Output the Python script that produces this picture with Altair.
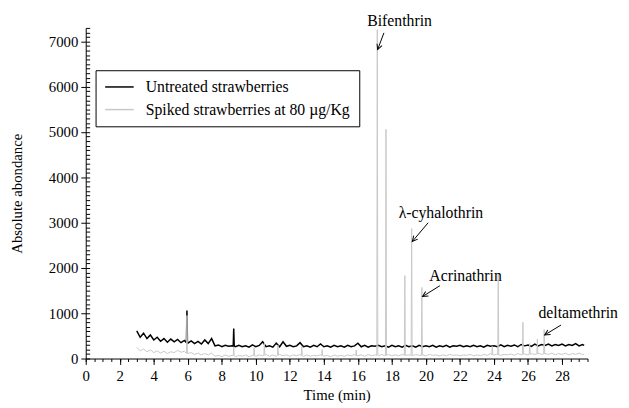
import math
import altair as alt
import pandas as pd

# ---------------- data ----------------
series_names = ["Untreated strawberries", "Spiked strawberries at 80 µg/Kg"]

base_t = [
    3.0, 3.2, 3.4, 3.6, 3.8,
    4.0, 4.2, 4.4, 4.6, 4.8,
    5.0, 5.2, 5.4, 5.6, 5.8,
    6.0, 6.2, 6.4, 6.6, 6.8,
    7.0, 7.2, 7.4, 7.6, 7.8,
    8.0, 8.2, 8.4, 8.6, 8.8,
    9.0, 9.2, 9.4, 9.6, 9.8,
    10.0, 10.2, 10.4, 10.6, 10.8,
    11.0, 11.2, 11.4, 11.6, 11.8,
    12.0, 12.2, 12.4, 12.6, 12.8,
    13.0, 13.2, 13.4, 13.6, 13.8,
    14.0, 14.2, 14.4, 14.6, 14.8,
    15.0, 15.2, 15.4, 15.6, 15.8,
    16.0, 16.2, 16.4, 16.6, 16.8,
    17.0, 17.2, 17.4, 17.6, 17.8,
    18.0, 18.2, 18.4, 18.6, 18.8,
    19.0, 19.2, 19.4, 19.6, 19.8,
    20.0, 20.2, 20.4, 20.6, 20.8,
    21.0, 21.2, 21.4, 21.6, 21.8,
    22.0, 22.2, 22.4, 22.6, 22.8,
    23.0, 23.2, 23.4, 23.6, 23.8,
    24.0, 24.2, 24.4, 24.6, 24.8,
    25.0, 25.2, 25.4, 25.6, 25.8,
    26.0, 26.2, 26.4, 26.6, 26.8,
    27.0, 27.2, 27.4, 27.6, 27.8,
    28.0, 28.2, 28.4, 28.6, 28.8,
    29.0, 29.2, 29.3,
]

untreated_v = [
    610, 470, 560, 440, 520,
    410, 470, 380, 440, 360,
    430, 370, 420, 350, 400,
    340, 390, 330, 380, 320,
    410, 330, 440, 280, 300,
    260, 290, 270, 280, 260,
    290, 260, 280, 250, 300,
    260, 290, 370, 260, 280,
    250, 340, 260, 370, 270,
    290, 260, 280, 350, 260,
    280, 250, 290, 260, 320,
    260, 280, 250, 290, 260,
    280, 250, 290, 260, 280,
    340, 260, 290, 250, 280,
    270, 290, 260, 280, 250,
    290, 260, 280, 250, 290,
    260, 280, 250, 290, 260,
    280, 260, 290, 250, 280,
    260, 290, 250, 280, 270,
    290, 260, 280, 260, 290,
    260, 280, 250, 290, 270,
    280, 260, 300, 260, 290,
    270, 300, 260, 310, 280,
    300, 270, 320, 280, 310,
    290, 320, 280, 310, 290,
    320, 280, 310, 290, 330,
    280, 310, 290,
]

spiked_v = [
    250, 170, 210, 150, 190,
    130, 170, 120, 160, 110,
    150, 130, 180, 140, 160,
    110, 130, 90, 120, 80,
    110, 80, 120, 50, 70,
    40, 80, 50, 70, 40,
    70, 50, 80, 40, 70,
    50, 80, 60, 90, 50,
    80, 50, 90, 60, 80,
    50, 80, 60, 90, 50,
    80, 50, 70, 60, 80,
    50, 70, 40, 80, 50,
    70, 50, 80, 60, 90,
    60, 80, 50, 90, 60,
    80, 60, 90, 60, 90,
    60, 80, 60, 90, 70,
    80, 60, 90, 70, 80,
    60, 90, 70, 80, 60,
    80, 60, 90, 70, 80,
    60, 80, 70, 90, 60,
    80, 60, 90, 70, 110,
    80, 100, 70, 90, 80,
    100, 70, 110, 80, 100,
    80, 110, 90, 120, 90,
    110, 90, 120, 80, 110,
    90, 120, 80, 110, 90,
    120, 90, 100,
]

# narrow peaks: retention time, apex, foot
untreated_peak_t = [5.95, 8.7]
untreated_peak_top = [1060, 660]
untreated_peak_base = [350, 270]

spiked_peak_t = [5.95, 8.7, 9.9, 10.5, 11.3, 12.7, 13.9, 15.9, 17.14, 17.65,
                 18.76, 19.16, 19.76, 23.9, 24.25, 25.7, 26.1, 26.55, 26.95]
spiked_peak_top = [950, 260, 240, 340, 300, 260, 200, 190, 7260, 5060,
                   1830, 2870, 1570, 270, 1850, 800, 330, 430, 640]
spiked_peak_base = [110, 60, 60, 70, 70, 60, 60, 60, 70, 70,
                    70, 70, 70, 80, 80, 90, 90, 100, 100]
peak_halfwidth = 0.03

# annotations (data units)
ann_label = ["Bifenthrin", "λ-cyhalothrin", "Acrinathrin", "deltamethrin"]
ann_text_x = [18.45, 20.88, 22.33, 28.95]
ann_text_y = [7452, 3215, 1825, 999]
ann_tail_x = [17.53, 20.13, 20.82, 27.94]
ann_tail_y = [7191, 2998, 1608, 739]
ann_head_x = [17.16, 19.2, 19.8, 26.98]
ann_head_y = [6822, 2585, 1369, 521]

x_tick_values = [0, 2, 4, 6, 8, 10, 12, 14, 16, 18, 20, 22, 24, 26, 28]
y_tick_values = [0, 1000, 2000, 3000, 4000, 5000, 6000, 7000]
x_minor_ticks = [i * 0.5 for i in range(60)]
y_minor_ticks = [i * 100 for i in range(74)]

# ---------------- build tables ----------------
def build(name, vals, pt, ptop, pbase):
    rows = [(t, v) for t, v in zip(base_t, vals)]
    for t, top, b in zip(pt, ptop, pbase):
        rows += [(t - peak_halfwidth, b), (t, top), (t + peak_halfwidth, b)]
    rows.sort(key=lambda r: r[0])
    return pd.DataFrame({"t": [r[0] for r in rows], "v": [r[1] for r in rows], "series": name})

df_u = build(series_names[0], untreated_v, untreated_peak_t, untreated_peak_top, untreated_peak_base)
df_s = build(series_names[1], spiked_v, spiked_peak_t, spiked_peak_top, spiked_peak_base)

W, H = 510, 336
XMAX, YMAX = 29.5, 7300
pxx, pxy = W / XMAX, H / YMAX
angles = []
for tx, ty, hx, hy in zip(ann_tail_x, ann_tail_y, ann_head_x, ann_head_y):
    dx = (hx - tx) * pxx
    dy = -(hy - ty) * pxy
    angles.append(math.degrees(math.atan2(-dx, dy)) % 360)

df_ann = pd.DataFrame({
    "label": ann_label, "tx": ann_text_x, "ty": ann_text_y,
    "x1": ann_tail_x, "y1": ann_tail_y, "x2": ann_head_x, "y2": ann_head_y,
    "angle": angles,
})

# ---------------- chart ----------------
FONT = "Liberation Serif"
xscale = alt.Scale(domain=[0, XMAX], nice=False, zero=False)
yscale = alt.Scale(domain=[0, YMAX], nice=False)
color_scale = alt.Scale(domain=series_names, range=["black", "#c8c8c8"])

legend = alt.Legend(
    title=None, orient="none", legendX=10, legendY=43,
    strokeColor="black", fillColor="white", padding=9, rowPadding=7,
    labelFont=FONT, labelFontSize=16, labelColor="black", labelLimit=400,
    symbolType="M-1,0H3", symbolSize=210, symbolStrokeWidth=1.5,
    symbolFillColor="transparent", labelOffset=26,
)

x_axis_major = alt.Axis(values=x_tick_values, title="Time (min)", tickSize=6,
                        labelPadding=4, titlePadding=5, format="d", labelFlush=False)
y_axis_major = alt.Axis(values=y_tick_values, title="Absolute abondance", tickSize=5,
                        labelPadding=3, titlePadding=24, format="d")
x_axis_minor = alt.Axis(values=x_minor_ticks, labels=False, domain=False, tickSize=3,
                        title=None, orient="bottom")
y_axis_minor = alt.Axis(values=y_minor_ticks, labels=False, domain=False, tickSize=4,
                        title=None, orient="right", offset=-W)

black = alt.Chart(df_u).mark_line(strokeWidth=1.5).encode(
    x=alt.X("t:Q", scale=xscale, axis=x_axis_major),
    y=alt.Y("v:Q", scale=yscale, axis=y_axis_major),
    color=alt.Color("series:N", scale=color_scale, legend=legend),
)
grey = alt.Chart(df_s).mark_line(strokeWidth=1).encode(
    x=alt.X("t:Q", scale=xscale, axis=x_axis_minor),
    y=alt.Y("v:Q", scale=yscale, axis=y_axis_minor),
    color=alt.Color("series:N", scale=color_scale, legend=legend),
)

texts = alt.Chart(df_ann).mark_text(font=FONT, fontSize=16, color="black",
                                    align="center", baseline="middle").encode(
    x=alt.X("tx:Q", scale=xscale, axis=None),
    y=alt.Y("ty:Q", scale=yscale, axis=None),
    text="label:N",
)
shafts = alt.Chart(df_ann).mark_rule(color="black", strokeWidth=1).encode(
    x=alt.X("x1:Q", scale=xscale, axis=None),
    y=alt.Y("y1:Q", scale=yscale, axis=None),
    x2="x2:Q", y2="y2:Q",
)
heads = alt.Chart(df_ann).mark_point(shape="M-0.6,-1.2L0,0L0.6,-1.2", filled=False,
                                     stroke="black", strokeWidth=1, size=80, opacity=1).encode(
    x=alt.X("x2:Q", scale=xscale, axis=None),
    y=alt.Y("y2:Q", scale=yscale, axis=None),
    angle=alt.Angle("angle:Q", scale=None),
)

chart = alt.layer(black, grey, shafts, heads, texts).resolve_axis(
    x="independent", y="independent"
).properties(
    width=W, height=H,
    autosize=alt.AutoSizeParams(type="none"),
    padding={"left": 79, "top": 17, "right": 34, "bottom": 45},
    background="white",
).configure_view(stroke=None).configure_axis(
    labelFont=FONT, labelFontSize=15, titleFont=FONT, titleFontSize=15,
    titleFontWeight="normal", labelColor="black", titleColor="black",
    domainColor="black", tickColor="black", grid=False, domainWidth=1, tickWidth=1,
)

chart.save("out.html", embed_options={"renderer": "svg", "actions": False})
